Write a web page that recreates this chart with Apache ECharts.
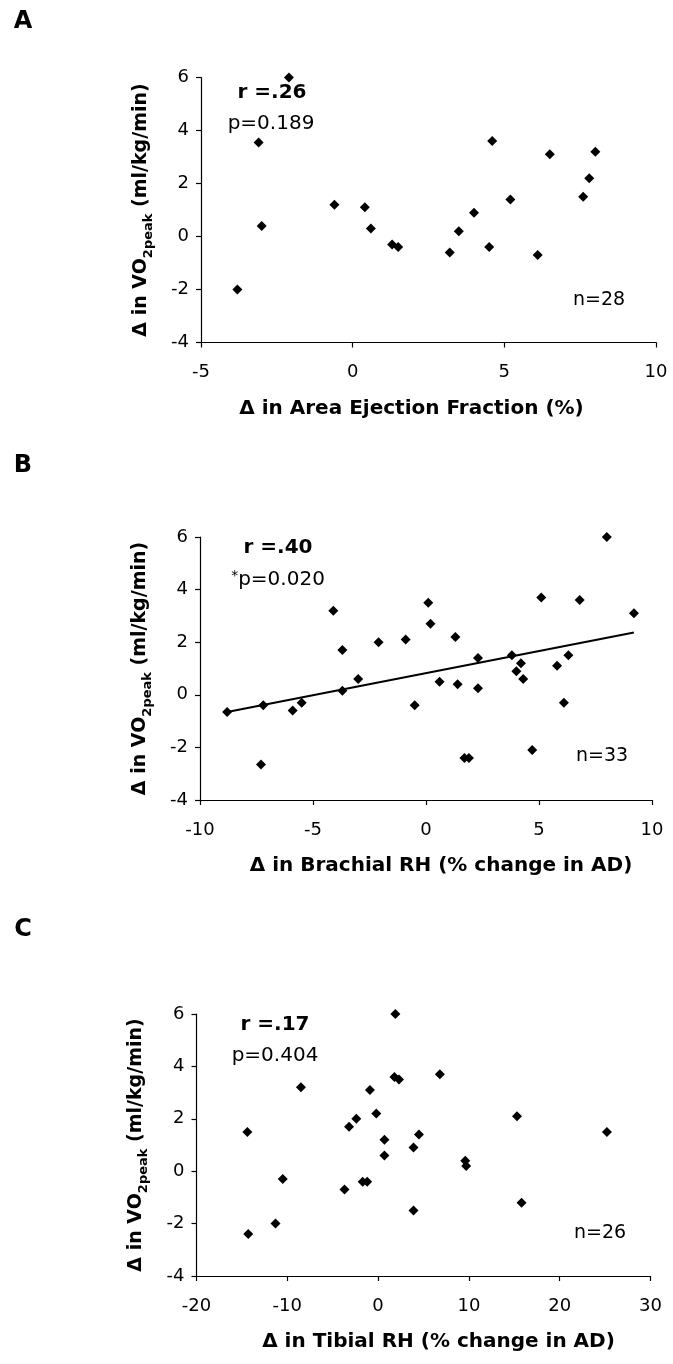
<!DOCTYPE html>
<html>
<head>
<meta charset="utf-8">
<script src="https://cdn.jsdelivr.net/npm/echarts@6/dist/echarts.min.js"></script>
<style>
  html, body { margin: 0; padding: 0; background: #fff; }
  #main { width: 673px; height: 1364px; }
</style>
</head>
<body>
<div id="main"></div>
<script>
// panel A: area ejection fraction
var aX = [-3.8, -3.1, -3.0, -2.1, -0.6, 0.4, 0.6, 1.3, 1.5, 3.2, 3.5, 4.0, 4.5, 4.6, 5.2, 6.1, 6.5, 7.6, 7.8, 8.0];
var aY = [-2.0, 3.55, 0.4, 6.0, 1.2, 1.1, 0.3, -0.3, -0.4, -0.6, 0.2, 0.9, -0.4, 3.6, 1.4, -0.7, 3.1, 1.5, 2.2, 3.2];
// panel B: brachial RH
var bX = [-8.8, -7.2, -7.3, -5.9, -5.5, -4.1, -3.7, -3.7, -3.0, -2.1, -0.9, -0.5, 0.1, 0.2, 0.6, 1.3, 1.4, 1.7, 1.9, 2.3, 2.3, 3.8, 4.0, 4.2, 4.3, 4.7, 5.1, 5.8, 6.1, 6.3, 6.8, 8.0, 9.2];
var bY = [-0.65, -0.4, -2.65, -0.6, -0.3, 3.2, 1.7, 0.15, 0.6, 2.0, 2.1, -0.4, 3.5, 2.7, 0.5, 2.2, 0.4, -2.4, -2.4, 1.4, 0.25, 1.5, 0.9, 1.2, 0.6, -2.1, 3.7, 1.1, -0.3, 1.5, 3.6, 6.0, 3.1];
// regression line ends in B
var bLineX = [-8.8, 9.2];
var bLineY = [-0.65, 2.37];
// panel C: tibial RH
var cX = [1.9, -14.4, -8.5, -10.5, -11.3, -14.3, -3.7, -3.2, -2.4, -1.7, -1.2, -0.9, -0.2, 0.7, 0.7, 1.8, 2.3, 3.9, 4.5, 3.9, 6.8, 9.6, 9.7, 15.3, 15.8, 25.2];
var cY = [6.0, 1.5, 3.2, -0.3, -2.0, -2.4, -0.7, 1.7, 2.0, -0.4, -0.4, 3.1, 2.2, 1.2, 0.6, 3.6, 3.5, 0.9, 1.4, -1.5, 3.7, 0.4, 0.2, 2.1, -1.2, 1.5];

var xTitles = ['\u0394 in Area Ejection Fraction (%)', '\u0394 in Brachial RH (% change in AD)', '\u0394 in Tibial RH (% change in AD)'];
var xRanges = [[-5, 10, 5], [-10, 10, 5], [-20, 30, 10]];
var yRange = [-4, 6, 2];

function pairs(xs, ys) {
	var out = [];
	for (var i = 0; i < xs.length; i++) out.push([xs[i], ys[i]]);
	return out;
}

var FONT = 'DejaVu Sans';
var grids = [
	{ left: 201, top: 77.5, width: 455, height: 265 },
	{ left: 200, top: 537, width: 452, height: 263 },
	{ left: 196.5, top: 1014, width: 454, height: 262 }
];
var titlePad = [[0, 34, 0, 0], [0, 0, 0, 30], [0, 0, 0, 30]];

var axisLine = { onZero: false, lineStyle: { color: '#000', width: 1.2 } };
var axisTick = { inside: false, length: 5, lineStyle: { color: '#000', width: 1.2 } };

var xAxes = [], yAxes = [];
for (var i = 0; i < 3; i++) {
	xAxes.push({
		type: 'value', gridIndex: i,
		min: xRanges[i][0], max: xRanges[i][1], interval: xRanges[i][2],
		axisLine: axisLine, axisTick: axisTick, splitLine: { show: false },
		axisLabel: { color: '#000', fontFamily: FONT, fontSize: 18, margin: 21 },
		name: xTitles[i], nameLocation: 'middle', nameGap: 56,
		nameTextStyle: { color: '#000', fontFamily: FONT, fontWeight: 'bold', fontSize: 20, padding: titlePad[i] }
	});
	yAxes.push({
		type: 'value', gridIndex: i,
		min: yRange[0], max: yRange[1], interval: yRange[2],
		axisLine: axisLine, axisTick: axisTick, splitLine: { show: false },
		axisLabel: { color: '#000', fontFamily: FONT, fontSize: 18, margin: 12 },
		name: '{a|\u0394 in VO}{b|2peak}{a| (ml/kg/min)}',
		nameLocation: 'middle', nameGap: 46, nameRotate: 90,
		nameTextStyle: {
			rich: {
				a: { color: '#000', fontFamily: FONT, fontWeight: 'bold', fontSize: 19, lineHeight: 28, verticalAlign: 'middle' },
				b: { color: '#000', fontFamily: FONT, fontWeight: 'bold', fontSize: 13, lineHeight: 12, verticalAlign: 'bottom' }
			}
		}
	});
}

function label(text, x, y, size, bold) {
	return {
		type: 'text', x: x, y: y,
		style: {
			text: text, fill: '#000', font: (bold ? 'bold ' : '') + size + 'px "' + FONT + '"',
			align: 'center', verticalAlign: 'middle'
		}
	};
}

var graphics = [
	label('A', 23, 22, 24, true),
	label('B', 23, 466, 24, true),
	label('C', 23, 930, 24, true),
	label('r =.26', 272, 93, 20, true),
	label('p=0.189', 271, 124, 20, false),
	label('n=28', 599, 300, 19, false),
	label('r =.40', 278, 548, 20, true),
	{
		type: 'text', x: 278, y: 580,
		style: {
			text: '{s|*}{p|p=0.020}', align: 'center', verticalAlign: 'middle',
			rich: {
				s: { fill: '#000', font: '14px "' + FONT + '"', verticalAlign: 'top', lineHeight: 22 },
				p: { fill: '#000', font: '20px "' + FONT + '"', lineHeight: 22 }
			}
		}
	},
	label('n=33', 602, 756, 19, false),
	label('r =.17', 275, 1025, 20, true),
	label('p=0.404', 275, 1056, 20, false),
	label('n=26', 600, 1233, 19, false)
];

var diamond = { symbol: 'diamond', symbolSize: 10, itemStyle: { color: '#000', opacity: 1 } };
var series = [
	Object.assign({ type: 'scatter', xAxisIndex: 0, yAxisIndex: 0, data: pairs(aX, aY) }, diamond),
	{
		type: 'line', xAxisIndex: 1, yAxisIndex: 1, data: pairs(bLineX, bLineY),
		showSymbol: false, lineStyle: { color: '#000', width: 2 }, silent: true
	},
	Object.assign({ type: 'scatter', xAxisIndex: 1, yAxisIndex: 1, data: pairs(bX, bY) }, diamond),
	Object.assign({ type: 'scatter', xAxisIndex: 2, yAxisIndex: 2, data: pairs(cX, cY) }, diamond)
];

var myChart = echarts.init(document.getElementById('main'), null, { renderer: 'canvas' });
myChart.setOption({
	backgroundColor: '#fff',
	animation: false,
	grid: grids,
	xAxis: xAxes,
	yAxis: yAxes,
	series: series,
	graphic: graphics
});
</script>
</body>
</html>
